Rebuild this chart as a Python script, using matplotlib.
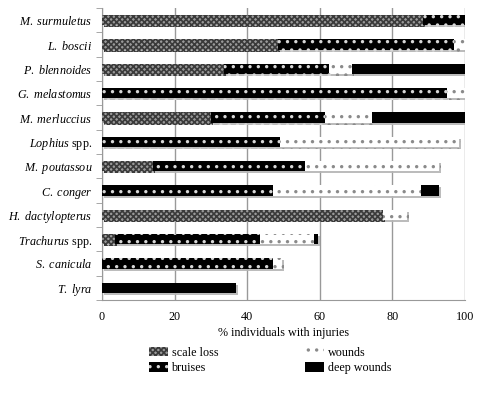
import matplotlib.pyplot as plt
import matplotlib.patheffects as pe
from matplotlib.patches import Patch
import numpy as np
from matplotlib import rc

rc('font', **{'size': 8.7, 'family': 'serif', 'serif': ['Liberation Serif']})
rc('mathtext', fontset='custom', it='Liberation Serif:italic', rm='Liberation Serif')
rc('hatch', linewidth=1.2)

species = [r'$\it{M.\ surmuletus}$', r'$\it{L.\ boscii}$', r'$\it{P.\ blennoides}$',
           r'$\it{G.\ melastomus}$', r'$\it{M.\ merluccius}$', r'$\it{Lophius}$ spp.',
           r'$\it{M.\ poutassou}$', r'$\it{C.\ conger}$', r'$\it{H.\ dactylopterus}$',
           r'$\it{Trachurus}$ spp.', r'$\it{S.\ canicula}$', r'$\it{T.\ lyra}$']

scale_loss = [88.5, 48.5, 33.5, 0, 30, 0, 14, 0, 77.5, 3.5, 0, 0]
bruises = [11.5, 48.5, 29, 95, 31.5, 49, 42, 47, 0, 40, 47, 0]
wounds = [0, 3, 6.5, 5, 13, 49.5, 37, 41, 6.5, 15, 2.5, 0]
deep_wounds = [0, 0, 31, 0, 25.5, 0, 0, 5, 0, 1, 0, 37]

series = [
    ('scale loss', scale_loss, dict(facecolor='#9a9a9a', edgecolor='#3a3a3a', hatch='xxxxxx')),
    ('bruises', bruises, dict(facecolor='black', edgecolor='#d8d8d8', hatch='..')),
    ('wounds', wounds, dict(facecolor='white', edgecolor='#8a8a8a', hatch='..')),
    ('deep wounds', deep_wounds, dict(facecolor='black', edgecolor='black')),
]

fig = plt.figure(figsize=(4.78, 3.94), dpi=100)
ax = fig.add_axes([0.2134, 0.2386, 0.759, 0.741])

y = np.arange(len(species))[::-1]
shadow = [pe.SimplePatchShadow(offset=(1.5, -1.5), shadow_rgbFace='#b5b5b5', alpha=0.9), pe.Normal()]
left = np.zeros(len(species))
handles = []
for name, vals, style in series:
    vals = np.array(vals, dtype=float)
    b = ax.barh(y, vals, 0.42, left=left, lw=0, zorder=3, **style)
    for p, v in zip(b.patches, vals):
        if v > 0:
            p.set_path_effects(shadow)
        else:
            p.set_visible(False)
    handles.append(Patch(label=name, lw=0, **style))
    left += vals

ax.set_xlim(0, 100)
ax.set_ylim(-0.5, len(species) - 0.5)
ax.set_xticks([0, 20, 40, 60, 80, 100])
ax.set_yticks(y, species)
ax.set_yticks(np.arange(len(species) + 1) - 0.5, minor=True)
ax.tick_params(axis='y', which='major', length=0, pad=7)
ax.tick_params(axis='y', which='minor', length=4, color='#999999')
ax.tick_params(axis='x', length=0, pad=8)
ax.grid(axis='x', color='#999999', lw=1, zorder=0)
for s in ['top', 'right']:
    ax.spines[s].set_visible(False)
for s in ['left', 'bottom']:
    ax.spines[s].set_color('#999999')
ax.set_xlabel('% individuals with injuries', labelpad=3)

fig.legend(handles=handles, ncol=2, frameon=False,
           loc='upper center', bbox_to_anchor=(0.565, 0.148), columnspacing=7.2,
           handlelength=1.6, handleheight=0.8, handletextpad=0.3, labelspacing=0.3)

fig.savefig('out.png', dpi=100)
